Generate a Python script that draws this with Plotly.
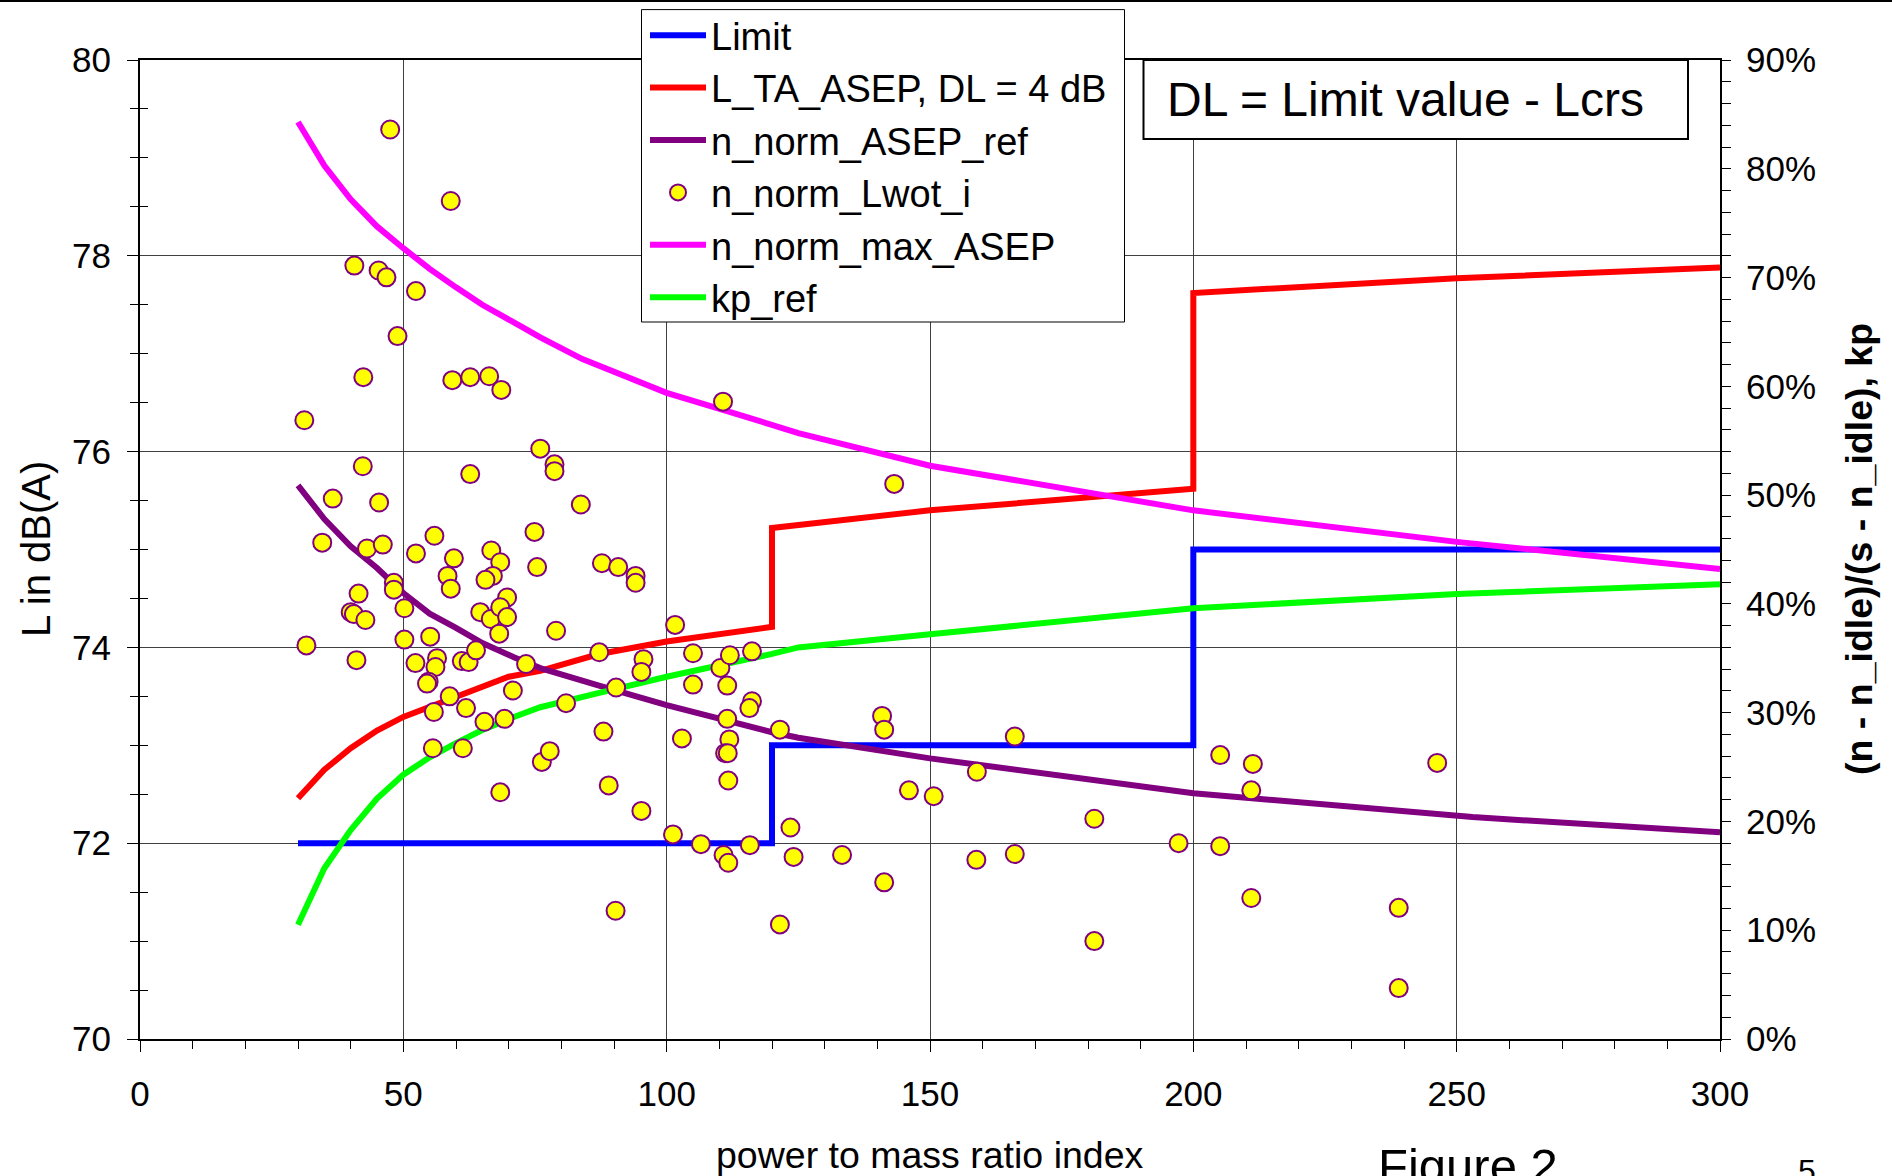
import plotly.graph_objects as go

FONT = "Liberation Sans, Arial, sans-serif"

# ---------------- data ----------------
limit_x = [30, 120, 200, 300]
limit_y = [72, 73, 75, 75]

lta_x = [30, 35, 40, 45, 50, 55, 60, 65, 70, 76, 87, 100, 120, 120, 125, 150, 200, 200, 250, 300]
lta_y = [72.46, 72.75, 72.97, 73.15, 73.29, 73.39, 73.50, 73.60, 73.70, 73.76, 73.93, 74.06,
         74.21, 75.22, 75.25, 75.40, 75.62, 77.62, 77.77, 77.88]

ref_x = [30, 35, 40, 45, 50, 55, 60, 65, 71, 76, 87, 100, 120, 125, 150, 200, 253, 300]
ref_y = [0.509, 0.478, 0.453, 0.433, 0.410, 0.391, 0.378, 0.364, 0.351, 0.341, 0.325, 0.307,
         0.282, 0.277, 0.258, 0.226, 0.204, 0.190]

max_x = [30, 35, 40, 45, 50, 55, 60, 65, 72, 76, 84, 100, 111, 125, 150, 200, 250, 300]
max_y = [0.843, 0.803, 0.772, 0.747, 0.727, 0.708, 0.691, 0.675, 0.656, 0.645, 0.625, 0.594,
         0.578, 0.557, 0.527, 0.486, 0.457, 0.432]

kp_x = [30, 35, 40, 45, 50, 55, 60, 65, 71, 76, 87, 100, 120, 125, 150, 200, 250, 300]
kp_y = [0.105, 0.157, 0.192, 0.221, 0.243, 0.259, 0.272, 0.284, 0.296, 0.305, 0.318, 0.333,
        0.354, 0.360, 0.372, 0.396, 0.409, 0.418]

pts_x = [47.5, 59.0, 40.7, 45.3, 46.8, 52.4, 48.9, 42.4, 59.3, 62.7, 66.3, 68.6, 31.2, 76.0,
         42.3, 62.7, 36.6, 45.4,
         110.7, 78.7, 78.7, 83.7,
         34.6, 43.1, 46.1, 52.4, 55.9, 59.6, 58.4, 59.0, 48.2, 48.2, 50.2, 41.5, 40.0, 40.6,
         42.8, 31.6, 41.1, 50.2, 55.1, 52.3, 56.4, 56.1, 54.8, 54.5, 61.1, 62.4, 63.8, 58.8,
         55.8, 61.9, 65.4, 69.2, 55.6, 61.3, 68.4, 66.7, 68.4, 67.0, 65.6, 69.7, 64.6, 66.6,
         68.4, 69.7, 68.2, 73.3, 70.8, 74.9, 75.4, 76.3,
         87.7, 90.8, 94.1, 94.1, 79.0, 101.6, 87.2, 95.6, 95.2, 105.0, 110.2, 112.0, 116.2,
         90.4, 80.9, 105.0, 111.5, 116.2, 115.7, 111.5, 121.5, 88.0, 102.9, 111.9, 111.1,
         111.6, 77.8, 111.7, 89.0, 95.2, 101.2, 106.5, 115.8, 110.8, 111.7, 123.5, 124.1,
         90.3, 121.5,
         143.2, 140.9, 141.3, 166.1, 158.9, 146.0, 150.7, 133.3, 158.8, 166.1, 141.3, 181.2,
         197.2, 205.1, 205.1, 211.3, 211.0, 246.3, 211.0, 239.0, 181.2, 239.0]
pts_y = [79.29, 78.56, 77.90, 77.85, 77.78, 77.64, 77.18, 76.76, 76.73, 76.76, 76.77, 76.63,
         76.32, 76.03, 75.85, 75.77, 75.52, 75.48,
         76.51, 75.87, 75.80, 75.46,
         75.07, 75.01, 75.05, 74.96, 75.14, 74.91, 74.73, 74.60, 74.66, 74.59, 74.40, 74.55,
         74.36, 74.34, 74.28, 74.02, 73.87, 74.08, 74.11, 73.84, 73.89, 73.80, 73.65, 73.63,
         73.86, 73.85, 73.97, 73.50, 73.34, 73.38, 73.24, 73.27, 72.97, 72.97, 72.52, 74.99,
         74.87, 74.73, 74.69, 74.51, 74.36, 74.29, 74.41, 74.31, 74.14, 73.83, 73.56, 75.18,
         74.82, 72.83,
         74.86, 74.82, 74.73, 74.66, 74.17, 74.23, 73.95, 73.88, 73.75, 73.94, 73.79, 73.92,
         73.96, 73.59, 73.43, 73.62, 73.61, 73.45, 73.38, 73.27, 73.16, 73.14, 73.07, 73.06,
         72.92, 72.92, 72.94, 72.64, 72.59, 72.33, 72.09, 71.99, 71.98, 71.88, 71.80, 72.16,
         71.86, 71.31, 71.17,
         75.67, 73.30, 73.16, 73.09, 72.73, 72.54, 72.48, 71.88, 71.83, 71.89, 71.60, 72.25,
         72.00, 71.97, 72.90, 72.81, 72.54, 72.82, 71.44, 71.34, 71.00, 70.52]

# ---------------- figure ----------------
W, H = 1892, 1176
ML, MR, MT, MB = 140, 172, 60, 137
PW, PH = W - ML - MR, H - MT - MB


def px(xp):
    return (xp - ML) / PW


def py(yp):
    return (H - MB - yp) / PH


fig = go.Figure()
fig.add_trace(go.Scatter(x=limit_x, y=limit_y, mode="lines", name="Limit", legendrank=1,
                         line=dict(color="#0000FF", width=6, shape="hv")))
fig.add_trace(go.Scatter(x=lta_x, y=lta_y, mode="lines", name="L_TA_ASEP, DL = 4 dB",
                         legendrank=2, line=dict(color="#FF0000", width=6)))
fig.add_trace(go.Scatter(x=ref_x, y=ref_y, mode="lines", name="n_norm_ASEP_ref", yaxis="y2",
                         legendrank=3, line=dict(color="#800080", width=6)))
fig.add_trace(go.Scatter(x=max_x, y=max_y, mode="lines", name="n_norm_max_ASEP", yaxis="y2",
                         legendrank=5, line=dict(color="#FF00FF", width=6)))
fig.add_trace(go.Scatter(x=kp_x, y=kp_y, mode="lines", name="kp_ref", yaxis="y2",
                         legendrank=6, line=dict(color="#00FF00", width=6)))
fig.add_trace(go.Scatter(x=pts_x, y=pts_y, mode="markers", name="n_norm_Lwot_i", yaxis="y3",
                         legendrank=4,
                         marker=dict(size=18, color="#FFFF00",
                                     line=dict(color="#800080", width=2))))

tickfont = dict(family=FONT, size=35, color="black")

fig.update_layout(
    width=W, height=H,
    margin=dict(l=ML, r=MR, t=MT, b=MB, pad=0, autoexpand=False),
    paper_bgcolor="white", plot_bgcolor="white",
    font=dict(family=FONT, color="black"),
    showlegend=True,
    legend=dict(x=px(645), y=py(4), xanchor="left", yanchor="top",
                bgcolor="rgba(0,0,0,0)", borderwidth=0,
                font=dict(family=FONT, size=38, color="black"),
                itemwidth=56, traceorder="normal"),
    xaxis=dict(range=[0, 300], tick0=0, dtick=50, showgrid=True, gridcolor="#404040",
               gridwidth=1, zeroline=False, showline=True, linecolor="black", linewidth=2,
               mirror=True, ticks="outside", ticklen=11, tickwidth=1, tickcolor="black",
               tickfont=tickfont, ticklabelstandoff=12,
               minor=dict(dtick=10, ticks="outside", ticklen=8, tickcolor="black",
                          tickwidth=1, showgrid=False)),
    yaxis=dict(range=[70, 80], tick0=70, dtick=2, showgrid=True, gridcolor="#404040",
               gridwidth=1, zeroline=False, showline=True, linecolor="black", linewidth=2,
               ticks="outside", ticklen=11, tickwidth=1, tickcolor="black",
               tickfont=tickfont, ticklabelstandoff=9,
               minor=dict(dtick=0.5, ticks="outside", ticklen=8, tickcolor="black",
                          tickwidth=1, showgrid=False)),
    yaxis2=dict(range=[0, 0.9], tick0=0, dtick=0.1, tickformat=".0%", overlaying="y",
                side="right", anchor="x", showgrid=False, zeroline=False, showline=True,
                linecolor="black", linewidth=2, ticks="outside", ticklen=9, tickwidth=1,
                tickcolor="black", tickfont=tickfont, ticklabelstandoff=8,
                minor=dict(dtick=0.02, ticks="outside", ticklen=9, tickcolor="black",
                           tickwidth=1, showgrid=False)),
    yaxis3=dict(range=[70, 80], tick0=70, dtick=2, overlaying="y", side="left", anchor="x",
                showgrid=False, zeroline=False, showline=False, showticklabels=False,
                ticks="",
                minor=dict(dtick=0.5, ticks="inside", ticklen=8, tickcolor="black",
                           tickwidth=1, showgrid=False)),
    yaxis4=dict(range=[0, 0.9], tick0=0, dtick=0.1, overlaying="y", side="right", anchor="x",
                showgrid=False, zeroline=False, showline=False, showticklabels=False,
                ticks="inside", ticklen=9, tickwidth=1, tickcolor="black",
                minor=dict(dtick=0.02, ticks="inside", ticklen=9, tickcolor="black",
                           tickwidth=1, showgrid=False)),
    xaxis2=dict(range=[0, 300], tick0=0, dtick=50, overlaying="x", side="bottom", anchor="y",
                showgrid=False, zeroline=False, showline=False, showticklabels=False,
                ticks="",
                minor=dict(dtick=10, ticks="inside", ticklen=8, tickcolor="black",
                           tickwidth=1, showgrid=False)),
)

# page top rule
fig.add_shape(type="line", xref="paper", yref="paper", x0=px(0), x1=px(W), y0=py(1), y1=py(1),
              line=dict(color="black", width=2), layer="above")
# legend frame
fig.add_shape(type="rect", xref="paper", yref="paper", x0=px(641.5), x1=px(1124.5),
              y0=py(322), y1=py(9.6), line=dict(color="black", width=1), fillcolor="white",
              layer="above")
# DL box
fig.add_shape(type="rect", xref="paper", yref="paper", x0=px(1143.5), x1=px(1688),
              y0=py(139), y1=py(60), line=dict(color="black", width=2), fillcolor="white",
              layer="above")
fig.add_annotation(xref="paper", yref="paper", x=px(1164.5), y=py(99.5), xanchor="left",
                   yanchor="middle", showarrow=False, text="DL = Limit value - Lcrs",
                   font=dict(family=FONT, size=48, color="black"))

# axis titles
fig.add_annotation(xref="paper", yref="paper", x=px(36), y=py(549), xanchor="center",
                   yanchor="middle", showarrow=False, text="L in dB(A)", textangle=-90,
                   font=dict(family=FONT, size=40, color="black"))
fig.add_annotation(xref="paper", yref="paper", x=px(1859), y=py(549), xanchor="center",
                   yanchor="middle", showarrow=False, text="<b>(n - n_idle)/(s - n_idle), kp</b>",
                   textangle=-90, font=dict(family=FONT, size=37.5, color="black"))
fig.add_annotation(xref="paper", yref="paper", x=0.5, y=py(1155), xanchor="center",
                   yanchor="middle", showarrow=False, text="power to mass ratio index",
                   font=dict(family=FONT, size=37.5, color="black"))
fig.add_annotation(xref="paper", yref="paper", x=px(1468), y=py(1166), xanchor="center",
                   yanchor="middle", showarrow=False, text="Figure 2",
                   font=dict(family=FONT, size=49, color="black"))
fig.add_annotation(xref="paper", yref="paper", x=px(1807), y=py(1171), xanchor="center",
                   yanchor="middle", showarrow=False, text="5",
                   font=dict(family=FONT, size=32, color="black"))

fig.write_html("out.html", config={"displayModeBar": False},
               post_script="document.body.style.margin='0';")
